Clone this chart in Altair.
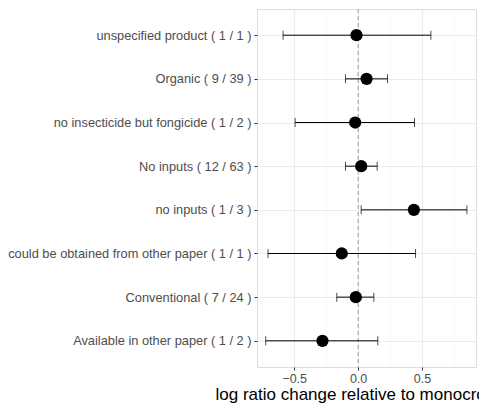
import altair as alt
import pandas as pd

categories = [
    "unspecified product ( 1 / 1 )",
    "Organic ( 9 / 39 )",
    "no insecticide but fongicide ( 1 / 2 )",
    "No inputs ( 12 / 63 )",
    "no inputs ( 1 / 3 )",
    "could be obtained from other paper ( 1 / 1 )",
    "Conventional ( 7 / 24 )",
    "Available in other paper ( 1 / 2 )",
]
estimate = [-0.013, 0.066, -0.023, 0.024, 0.436, -0.128, -0.018, -0.279]
lower = [-0.587, -0.099, -0.493, -0.099, 0.024, -0.705, -0.167, -0.723]
upper = [0.569, 0.230, 0.441, 0.149, 0.851, 0.449, 0.123, 0.154]
minor_ticks = [-0.75, -0.25, 0.25, 0.75]
major_ticks = [-0.5, 0.0, 0.5]
x_domain = [-0.791, 0.922]

df = pd.DataFrame({"cat": categories, "est": estimate, "lo": lower, "hi": upper})
minor_df = pd.DataFrame({"v": minor_ticks})
zero_df = pd.DataFrame({"v": [0.0]})

xscale = alt.Scale(domain=x_domain, nice=False, zero=False)
yscale = alt.Scale(type="point", domain=categories, padding=0.6)

xaxis = alt.Axis(
    title="log ratio change relative to monocrop",
    values=major_ticks, format=".1f",
    grid=True, gridColor="#ebebeb", gridWidth=1.1,
    domain=False, tickColor="#333333", tickSize=3,
    labelColor="#4d4d4d", labelFontSize=12.5, labelFont="Liberation Sans", labelPadding=2,
    titleFont="Liberation Sans", titleFontSize=17, titleFontWeight="normal",
    titleColor="#000000", titleAlign="left", titleBaseline="alphabetic",
    titleX=-42, titleY=32,
)
yaxis = alt.Axis(
    title=None, grid=True, gridColor="#ebebeb", gridWidth=1.1,
    domain=False, tickColor="#333333", tickSize=3,
    labelColor="#4d4d4d", labelFontSize=12.8, labelFont="Liberation Sans", labelPadding=3,
    labelLimit=400,
)

base = alt.Chart(df)

minor = alt.Chart(minor_df).mark_rule(color="#f3f3f3", strokeWidth=0.6).encode(
    x=alt.X("v:Q", scale=xscale, axis=xaxis)
)
zero = alt.Chart(zero_df).mark_rule(color="#999999", strokeDash=[4, 3], strokeWidth=1).encode(
    x=alt.X("v:Q", scale=xscale, axis=xaxis)
)
rule = base.mark_rule(color="#000000", strokeWidth=1).encode(
    x=alt.X("lo:Q", scale=xscale, axis=xaxis),
    x2="hi:Q",
    y=alt.Y("cat:N", scale=yscale, axis=yaxis, sort=categories),
)
cap_lo = base.mark_tick(color="#000000", thickness=1, size=9, orient="vertical").encode(
    x=alt.X("lo:Q", scale=xscale, axis=xaxis),
    y=alt.Y("cat:N", scale=yscale, axis=yaxis, sort=categories),
)
cap_hi = base.mark_tick(color="#000000", thickness=1, size=9, orient="vertical").encode(
    x=alt.X("hi:Q", scale=xscale, axis=xaxis),
    y=alt.Y("cat:N", scale=yscale, axis=yaxis, sort=categories),
)
pts = base.mark_circle(color="#000000", opacity=1, size=150).encode(
    x=alt.X("est:Q", scale=xscale, axis=xaxis),
    y=alt.Y("cat:N", scale=yscale, axis=yaxis, sort=categories),
)

chart = alt.layer(minor, zero, rule, cap_lo, cap_hi, pts).properties(
    width=219, height=358,
    autosize=alt.AutoSizeParams(type="none"),
    padding={"left": 249, "right": 3, "top": 1, "bottom": 37},
).configure_view(
    stroke="#333333", strokeWidth=1.2
).configure(background="#ffffff")

chart.save("out.html", embed_options={"renderer": "svg", "actions": False})
